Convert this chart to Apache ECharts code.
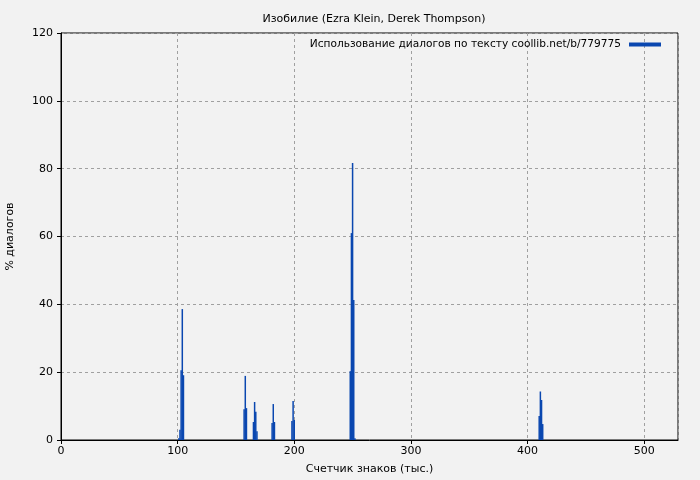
<!DOCTYPE html>
<html><head><meta charset="utf-8">
<script src="https://cdn.jsdelivr.net/npm/echarts@6/dist/echarts.min.js"></script>
<style>html,body{margin:0;padding:0;background:#f2f2f2}#c{width:700px;height:480px}</style>
</head><body><div id="c"></div>
<script>
var titleText = 'Изобилие (Ezra Klein, Derek Thompson)';
var seriesName = 'Использование диалогов по тексту coollib.net/b/779775';
var xName = 'Счетчик знаков (тыс.)';
var yName = '% диалогов';
var positions = [101,102,103,104,105, 157,158,159, 165,166,167,168, 181,182,183, 198,199,200, 248,249,250,251,252, 410,411,412,413];
var percents  = [0.5,3,20.6,38.6,19.1, 9.1,18.9,9.4, 5.3,11.2,8.3,2.6, 5.0,10.6,5.3, 5.6,11.5,5.9, 20.3,61,81.7,41.3,0.5, 7.1,14.3,11.8,4.7];
var data = positions.map(function(p,i){return [p, percents[i]];});
var font = 'DejaVu Sans';
var chart = echarts.init(document.getElementById('c'));
chart.setOption({
  backgroundColor:'#f2f2f2',
  animation:false,
  textStyle:{fontFamily:font},
  title:{text:titleText,left:369,textAlign:'center',top:9,textStyle:{fontSize:11,fontWeight:'normal',color:'#000',fontFamily:font}},
  legend:{right:34,top:34,icon:'rect',itemWidth:32,itemHeight:4,align:'right',itemGap:5,
    textStyle:{fontSize:10.6,color:'#000',fontFamily:font,padding:[0,3,0,0]},data:[seriesName]},
  grid:{left:61,right:22,top:33,bottom:40,containLabel:false,outerBoundsMode:'none',show:true,borderColor:'#000',borderWidth:1,backgroundColor:'transparent'},
  xAxis:{type:'value',min:0,max:529,interval:100,
    name:xName,nameLocation:'middle',nameGap:24,nameTextStyle:{fontSize:11,color:'#000'},
    axisLine:{lineStyle:{color:'#000'}},axisTick:{show:true,length:4,lineStyle:{color:'#000'}},
    axisLabel:{fontSize:11,color:'#000',margin:6,showMaxLabel:false},
    splitLine:{show:true,lineStyle:{color:'#a0a0a0',type:[3,3]}}},
  yAxis:{type:'value',min:0,max:120,interval:20,
    name:yName,nameLocation:'middle',nameGap:45,nameTextStyle:{fontSize:11,color:'#000'},
    axisLine:{show:true,lineStyle:{color:'#000'}},axisTick:{show:true,length:4,lineStyle:{color:'#000'}},
    axisLabel:{fontSize:11,color:'#000',margin:8},
    splitLine:{show:true,lineStyle:{color:'#a0a0a0',type:[3,3]}}},
  series:[{type:'bar',name:seriesName,data:data,barWidth:1.5,itemStyle:{color:'#0a47b0'}}]
});
</script></body></html>
